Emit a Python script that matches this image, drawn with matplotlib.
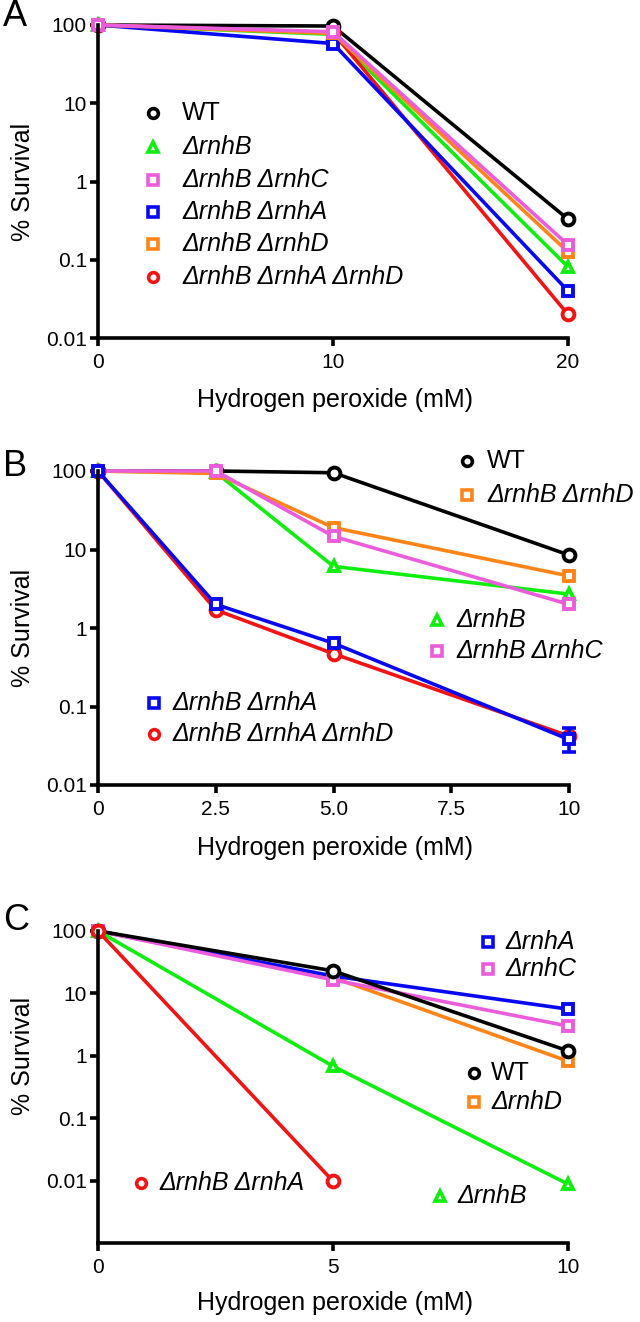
import matplotlib
matplotlib.use('Agg')
import matplotlib.pyplot as plt
from matplotlib.lines import Line2D

plt.rcParams['font.family'] = ['Liberation Sans', 'DejaVu Sans']

# colours used in the figure
BLACK = '#000000'
GREEN = '#10EE10'
PINK = '#EA5CDA'
BLUE = '#0808F2'
ORANGE = '#FF8418'
RED = '#F01414'

# Panel A data (% survival)
dose_a = [0, 10, 20]
a_wt = [100, 97, 0.33]
a_rnhB = [100, 76, 0.081]
a_rnhB_rnhC = [100, 82, 0.155]
a_rnhB_rnhA = [100, 58, 0.040]
a_rnhB_rnhD = [100, 78, 0.126]
a_rnhB_rnhA_rnhD = [100, 80, 0.020]

# Panel B data
dose_b = [0, 2.5, 5, 10]
b_wt = [100, 100, 95, 8.5]
b_rnhB = [100, 96, 6.1, 2.7]
b_rnhB_rnhC = [100, 100, 14.7, 2.0]
b_rnhB_rnhA = [100, 2.0, 0.64, 0.038]
b_rnhB_rnhA_lo = [0, 0, 0, 0.012]
b_rnhB_rnhA_hi = [0, 0, 0, 0.015]
b_rnhB_rnhD = [100, 93, 19, 4.6]
b_rnhB_rnhA_rnhD = [100, 1.7, 0.47, 0.042]

# Panel C data
dose_c = [0, 5, 10]
c_wt = [100, 23, 1.2]
c_rnhA = [100, 19, 5.6]
c_rnhC = [100, 16.5, 3.0]
c_rnhD = [100, 18, 0.82]
c_rnhB = [100, 0.68, 0.0088]
dose_c2 = [0, 5]
c_rnhB_rnhA = [100, 0.0098]

W, H = 640, 1322
fig = plt.figure(figsize=(W / 100, H / 100), dpi=100)

def px_axes(left, top, right, bottom):
    return fig.add_axes([left / W, 1 - bottom / H, (right - left) / W, (bottom - top) / H])

def style(ax):
    for s in ['top', 'right']:
        ax.spines[s].set_visible(False)
    for s in ['left', 'bottom']:
        ax.spines[s].set_linewidth(2.6)
    ax.set_yscale('log')
    ax.minorticks_off()
    ax.tick_params(width=2.6, length=6, labelsize=15, direction='out')
    ax.tick_params(axis='y', pad=2)
    ax.tick_params(axis='x', pad=5)
    ax.set_yticks([0.01, 0.1, 1, 10, 100])
    ax.set_yticklabels(['0.01', '0.1', '1', '10', '100'])

def series(ax, x, y, color, marker):
    ms = 8.5 if marker == 'o' else 7.5
    ax.plot(x, y, color=color, lw=2.6, marker=marker, markersize=ms,
            markeredgewidth=2.8, markerfacecolor='white', clip_on=False)

def key(px, py, color, marker, label, gap):
    ms = 7 if marker == 'o' else 6.5
    fig.add_artist(Line2D([px / W], [1 - py / H], marker=marker, color=color,
                          markersize=ms, markeredgewidth=2.6, markerfacecolor='white',
                          transform=fig.transFigure))
    fstyle = 'normal' if label == 'WT' else 'italic'
    fig.text((px + gap) / W, 1 - py / H, label, fontsize=18, fontstyle=fstyle,
             va='center', ha='left')

def labels(top, bottom, letter, letter_y, xlabel_y):
    fig.text(23 / W, 1 - (top + bottom) / 2 / H, '% Survival', rotation=90,
             fontsize=18, ha='center', va='center')
    fig.text(335 / W, 1 - xlabel_y / H, 'Hydrogen peroxide (mM)', fontsize=18,
             ha='center', va='center')
    fig.text(3 / W, 1 - letter_y / H, letter, fontsize=26, ha='left', va='center')

# ---- Panel A
axA = px_axes(98, 25, 568, 338)
style(axA)
series(axA, dose_a, a_wt, BLACK, 'o')
series(axA, dose_a, a_rnhB, GREEN, '^')
series(axA, dose_a, a_rnhB_rnhA_rnhD, RED, 'o')
series(axA, dose_a, a_rnhB_rnhA, BLUE, 's')
series(axA, dose_a, a_rnhB_rnhD, ORANGE, 's')
series(axA, dose_a, a_rnhB_rnhC, PINK, 's')
axA.set_xlim(0, 20)
axA.set_ylim(0.01, 100)
axA.set_xticks([0, 10, 20])
labels(25, 338, 'A', 17, 400)
key(153, 113, BLACK, 'o', 'WT', 29)
key(153, 147, GREEN, '^', 'ΔrnhB', 29)
key(153, 180, PINK, 's', 'ΔrnhB ΔrnhC', 29)
key(153, 212, BLUE, 's', 'ΔrnhB ΔrnhA', 29)
key(153, 244, ORANGE, 's', 'ΔrnhB ΔrnhD', 29)
key(153, 277, RED, 'o', 'ΔrnhB ΔrnhA ΔrnhD', 29)

# ---- Panel B
axB = px_axes(98, 471, 569, 785)
style(axB)
series(axB, dose_b, b_wt, BLACK, 'o')
series(axB, dose_b, b_rnhB, GREEN, '^')
series(axB, dose_b, b_rnhB_rnhD, ORANGE, 's')
series(axB, dose_b, b_rnhB_rnhC, PINK, 's')
series(axB, dose_b, b_rnhB_rnhA_rnhD, RED, 'o')
axB.errorbar(dose_b[3:], b_rnhB_rnhA[3:], yerr=[b_rnhB_rnhA_lo[3:], b_rnhB_rnhA_hi[3:]],
             fmt='none', ecolor=BLUE, elinewidth=2.6, capsize=5, capthick=2.6, clip_on=False)
series(axB, dose_b, b_rnhB_rnhA, BLUE, 's')
axB.set_xlim(0, 10)
axB.set_ylim(0.01, 100)
axB.set_xticks([0, 2.5, 5, 7.5, 10])
axB.set_xticklabels(['0', '2.5', '5.0', '7.5', '10'])
labels(471, 785, 'B', 466, 848)
key(467, 461, BLACK, 'o', 'WT', 20)
key(467, 495, ORANGE, 's', 'ΔrnhB ΔrnhD', 20)
key(437, 620, GREEN, '^', 'ΔrnhB', 19)
key(437, 651, PINK, 's', 'ΔrnhB ΔrnhC', 19)
key(154, 703, BLUE, 's', 'ΔrnhB ΔrnhA', 18)
key(154, 734, RED, 'o', 'ΔrnhB ΔrnhA ΔrnhD', 18)

# ---- Panel C
axC = px_axes(98, 931, 568, 1243)
style(axC)
series(axC, dose_c, c_rnhD, ORANGE, 's')
series(axC, dose_c, c_rnhA, BLUE, 's')
series(axC, dose_c, c_rnhC, PINK, 's')
series(axC, dose_c, c_wt, BLACK, 'o')
series(axC, dose_c, c_rnhB, GREEN, '^')
series(axC, dose_c2, c_rnhB_rnhA, RED, 'o')
axC.set_xlim(0, 10)
axC.set_ylim(0.001, 100)
axC.set_xticks([0, 5, 10])
labels(931, 1181, 'C', 920, 1303)
key(488, 942, BLUE, 's', 'ΔrnhA', 17)
key(488, 969, PINK, 's', 'ΔrnhC', 17)
key(474, 1073, BLACK, 'o', 'WT', 17)
key(474, 1102, ORANGE, 's', 'ΔrnhD', 17)
key(440, 1196, GREEN, '^', 'ΔrnhB', 17)
key(141, 1183, RED, 'o', 'ΔrnhB ΔrnhA', 18)

fig.savefig('out.png', dpi=100, facecolor='white')
